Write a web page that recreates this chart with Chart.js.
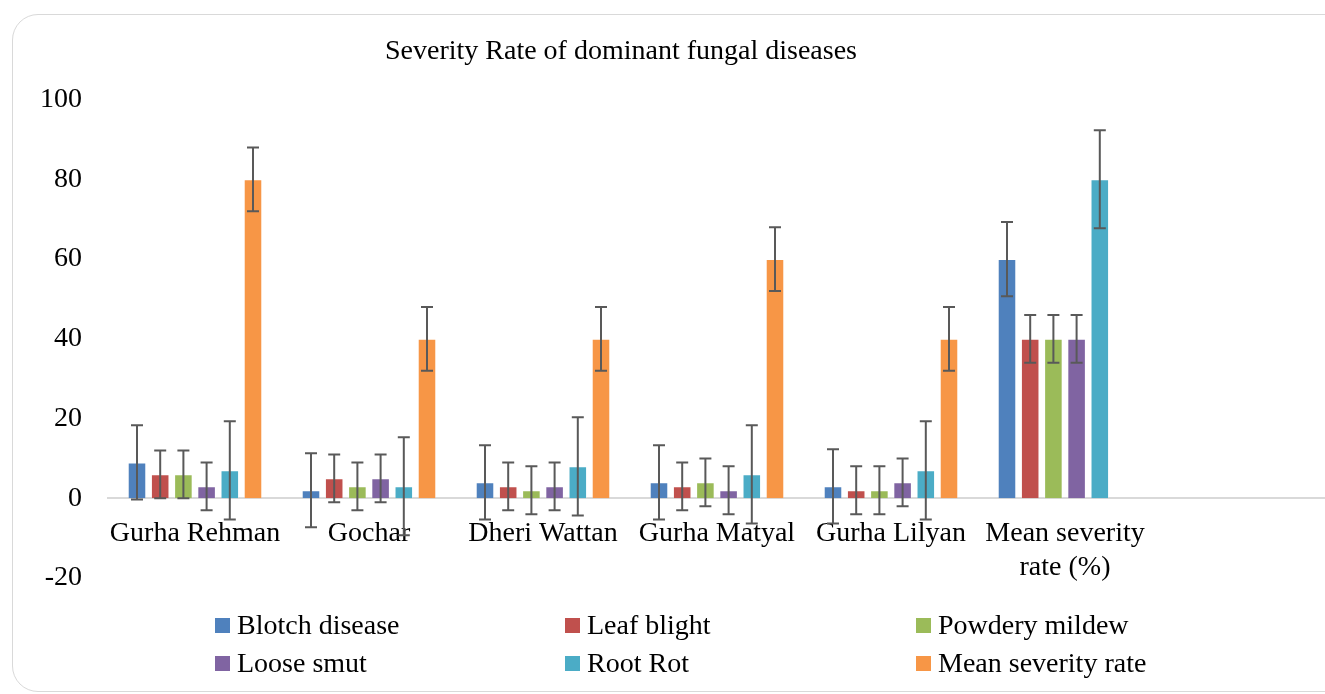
<!DOCTYPE html>
<html>
<head>
<meta charset="utf-8">
<title>Severity Rate of dominant fungal diseases</title>
<script src="https://cdn.jsdelivr.net/npm/chart.js@4.4.1/dist/chart.umd.min.js"></script>
<style>
  html, body { margin: 0; padding: 0; width: 1325px; height: 694px; overflow: hidden; background: #fff; }
  .frame { position: absolute; left: 12px; top: 14px; width: 1400px; height: 676px; border: 1.5px solid #d9d9d9; border-radius: 26px; }
  #severityChart { position: absolute; left: -84px; top: 0; }
  .legend { position: absolute; left: 215px; top: 606px; display: grid; grid-template-columns: 350px 351px 320px; grid-auto-rows: 38px; font: 28px 'Liberation Serif', serif; color: #000; }
  .legend .item { display: flex; align-items: center; white-space: nowrap; }
  .legend .swatch { width: 15px; height: 15px; margin-right: 7px; display: inline-block; }
</style>
</head>
<body>
<div class="frame"></div>
<canvas id="severityChart" width="1424" height="694" style="width:1424px;height:694px"></canvas>
<div class="legend" id="legend"></div>
<script>
// categories (last slot is empty in the original)
const categories = ['Gurha Rehman', 'Gochar', 'Dheri Wattan', 'Gurha Matyal', 'Gurha Lilyan', ['Mean severity', 'rate (%)'], ''];

const blotchDisease = [9, 2, 4, 4, 3, 60];
const leafBlight = [6, 5, 3, 3, 2, 40];
const powderyMildew = [6, 3, 2, 4, 2, 40];
const looseSmut = [3, 5, 3, 2, 4, 40];
const rootRot = [7, 3, 8, 6, 7, 80];
const meanSeverityRate = [80, 40, 40, 60, 40, null];

// error bar half-widths
const blotchErr = [9.3, 9.3, 9.3, 9.3, 9.3, 9.3];
const leafErr = [6, 6, 6, 6, 6, 6];
const powderyErr = [6, 6, 6, 6, 6, 6];
const smutErr = [6, 6, 6, 6, 6, 6];
const rootErr = [12.3, 12.3, 12.3, 12.3, 12.3, 12.3];
const meanErr = [8, 8, 8, 8, 8, null];

const yTicks = [-20, 0, 20, 40, 60, 80, 100];

Chart.defaults.font.family = "'Liberation Serif', serif";
Chart.defaults.color = '#000';

// draws the error bars on top of every bar
const errorBarsPlugin = {
  id: 'errorBars',
  afterDatasetsDraw(chart) {
    const ctx = chart.ctx;
    const yScale = chart.scales.y;
    ctx.save();
    ctx.strokeStyle = '#595959';
    ctx.lineWidth = 2;
    chart.data.datasets.forEach((ds, i) => {
      const meta = chart.getDatasetMeta(i);
      meta.data.forEach((bar, j) => {
        const v = ds.data[j];
        const e = ds.errors[j];
        if (v === null || v === undefined || e === null || e === undefined) return;
        const yTop = yScale.getPixelForValue(v + e);
        const yBot = yScale.getPixelForValue(v - e);
        const x = bar.x;
        ctx.beginPath();
        ctx.moveTo(x, yTop);
        ctx.lineTo(x, yBot);
        ctx.moveTo(x - 6, yTop);
        ctx.lineTo(x + 6, yTop);
        ctx.moveTo(x - 6, yBot);
        ctx.lineTo(x + 6, yBot);
        ctx.stroke();
      });
    });
    ctx.restore();
  },
};

function make_dataset(label, data, errors, color) {
  return {
    label: label,
    data: data,
    errors: errors,
    backgroundColor: color,
    borderColor: 'rgba(255,255,255,0.2)',
    borderWidth: 1,
    barPercentage: 0.8,
    categoryPercentage: 0.8,
  };
}

const severity_ctx = document.getElementById('severityChart').getContext('2d');
const severityChart = new Chart(severity_ctx, {
  type: 'bar',
  data: {
    labels: categories,
    datasets: [
      make_dataset('Blotch disease', blotchDisease, blotchErr, '#4F81BD'),
      make_dataset('Leaf blight', leafBlight, leafErr, '#C0504D'),
      make_dataset('Powdery mildew', powderyMildew, powderyErr, '#9BBB59'),
      make_dataset('Loose smut', looseSmut, smutErr, '#8064A2'),
      make_dataset('Root Rot', rootRot, rootErr, '#4BACC6'),
      make_dataset('Mean severity rate', meanSeverityRate, meanErr, '#F79646'),
    ],
  },
  options: {
    responsive: false,
    animation: false,
    events: [],
    layout: {
      padding: { left: 0, right: 14, top: 0, bottom: 116 },
    },
    plugins: {
      legend: { display: false },
      tooltip: { enabled: false },
      title: {
        display: true,
        text: 'Severity Rate of dominant fungal diseases',
        color: '#000',
        font: { size: 28, weight: 'normal' },
        padding: { top: 35, bottom: 31 },
      },
    },
    scales: {
      x: {
        position: { y: 0 },
        grid: { display: false, drawTicks: false },
        border: { display: true, color: '#d9d9d9', width: 2 },
        ticks: {
          autoSkip: false,
          maxRotation: 0,
          padding: 19,
          font: { size: 28 },
          color: '#000',
        },
      },
      y: {
        min: -20,
        max: 100,
        afterBuildTicks(scale) {
          scale.ticks = yTicks.map((v) => ({ value: v }));
        },
        afterFit(scale) {
          scale.width = 192;
        },
        grid: { display: false, drawTicks: false },
        border: { display: false },
        ticks: {
          padding: 26,
          font: { size: 28 },
          color: '#000',
        },
      },
    },
  },
  plugins: [errorBarsPlugin],
});

// html legend in three columns
const legendBox = document.getElementById('legend');
severityChart.data.datasets.forEach((ds) => {
  const item = document.createElement('div');
  item.className = 'item';
  const sw = document.createElement('span');
  sw.className = 'swatch';
  sw.style.background = ds.backgroundColor;
  item.appendChild(sw);
  item.appendChild(document.createTextNode(ds.label));
  legendBox.appendChild(item);
});
</script>
</body>
</html>
